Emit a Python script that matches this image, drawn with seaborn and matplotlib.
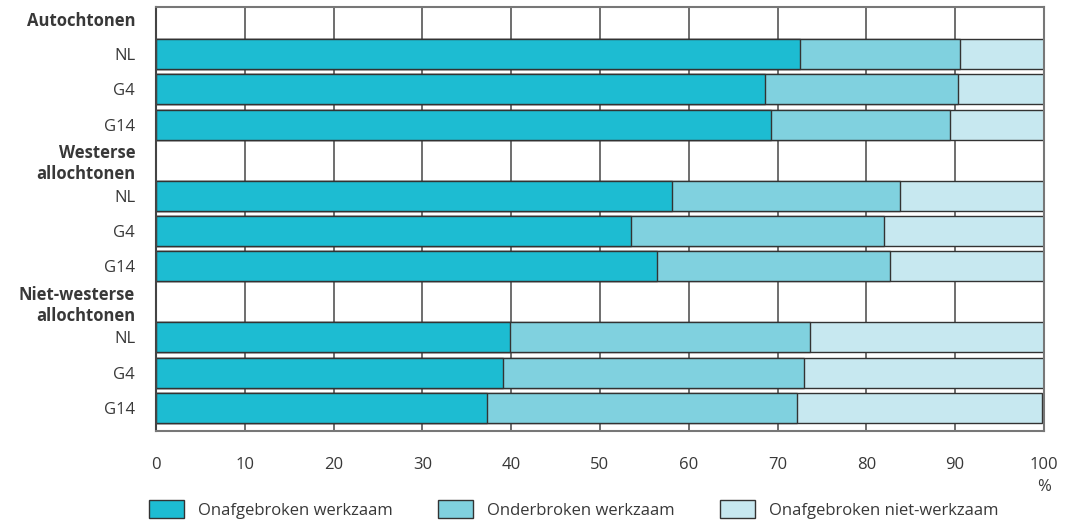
import matplotlib
matplotlib.use("Agg")
import matplotlib.pyplot as plt
from matplotlib.patches import Patch
import pandas as pd
import seaborn as sns

# groups and sub rows, top to bottom
groups = ["Autochtonen", "Westerse\nallochtonen", "Niet-westerse\nallochtonen"]
regions = ["NL", "G4", "G14"]

# percentages per row (group order, then region order)
onafgebroken_werkzaam = [72.5, 68.6, 69.3, 58.1, 53.5, 56.4, 39.9, 39.1, 37.3]
onderbroken_werkzaam = [18.0, 21.7, 20.1, 25.7, 28.5, 26.3, 33.8, 33.9, 34.9]
onafgebroken_niet_werkzaam = [9.5, 9.7, 10.6, 16.2, 18.0, 17.3, 26.3, 27.0, 27.6]

series_labels = ["Onafgebroken werkzaam", "Onderbroken werkzaam", "Onafgebroken niet-werkzaam"]
colors = ["#1dbcd2", "#80d1df", "#c7e8f0"]
text_color = "#383838"

sns.set_style("white")
plt.rcParams["font.family"] = ["Open Sans", "DejaVu Sans"]

# build rows with a header slot before every group
order, labels, is_header = [], [], []
keys = []
for g in groups:
    order.append(g)
    labels.append(g)
    is_header.append(True)
    for r in regions:
        k = f"{g}|{r}"
        order.append(k)
        keys.append(k)
        labels.append(r)
        is_header.append(False)

df = pd.DataFrame({
    "row": keys,
    "a": onafgebroken_werkzaam,
    "b": onderbroken_werkzaam,
    "c": onafgebroken_niet_werkzaam,
})
df["cum_a"] = df["a"]
df["cum_b"] = df["a"] + df["b"]
df["cum_c"] = df["a"] + df["b"] + df["c"]

fig = plt.figure(figsize=(10.68, 5.22), dpi=100)
ax = fig.add_axes([0.1461, 0.1743, 0.8313, 0.8132])

# vertical grid behind the bars
for xv in range(10, 100, 10):
    ax.axvline(xv, color="#555555", lw=1.2, zorder=0)

# stacked bars: draw cumulative totals, widest first
for col, color in zip(["cum_c", "cum_b", "cum_a"], colors[::-1]):
    sns.barplot(
        data=df, x=col, y="row", order=order, color=color, saturation=1,
        edgecolor="#333333", linewidth=1, width=0.85, errorbar=None, ax=ax, zorder=2,
    )

ax.set_xlim(0, 100)
ax.set_ylim(11.65, -0.342)
ax.set_xticks(range(0, 101, 10))
ax.set_xticklabels([str(v) for v in range(0, 101, 10)])
ax.set_yticks(range(len(order)))
ax.set_yticklabels(labels)
for lbl, hdr in zip(ax.get_yticklabels(), is_header):
    if hdr:
        lbl.set_fontweight("bold")
        lbl.set_color("#1a1a1a")
    lbl.set_ha("right")
    lbl.set_multialignment("right")
ax.tick_params(axis="y", length=0, pad=15, labelsize=12, labelcolor=text_color)
ax.tick_params(axis="x", length=0, pad=19, labelsize=12, labelcolor=text_color)
ax.set_xlabel("")
ax.set_ylabel("")
for name, sp in ax.spines.items():
    sp.set_visible(True)
    sp.set_color("#777777")
    sp.set_linewidth(1.5)
ax.spines["left"].set_color("#444444")

ax.text(100, -0.112, "%", transform=ax.get_xaxis_transform(), ha="center", va="top",
        fontsize=12, color=text_color)

handles = [Patch(facecolor=c, edgecolor="#333333", linewidth=1) for c in colors]
fig.legend(
    handles, series_labels, ncol=3, loc="lower left", bbox_to_anchor=(0.1367, 0.0),
    frameon=False, fontsize=12, handlelength=2.1, handleheight=1.32,
    handletextpad=0.84, columnspacing=2.7, borderpad=0.2, borderaxespad=0,
    labelcolor=text_color,
)

fig.savefig("out.png", dpi=100)
